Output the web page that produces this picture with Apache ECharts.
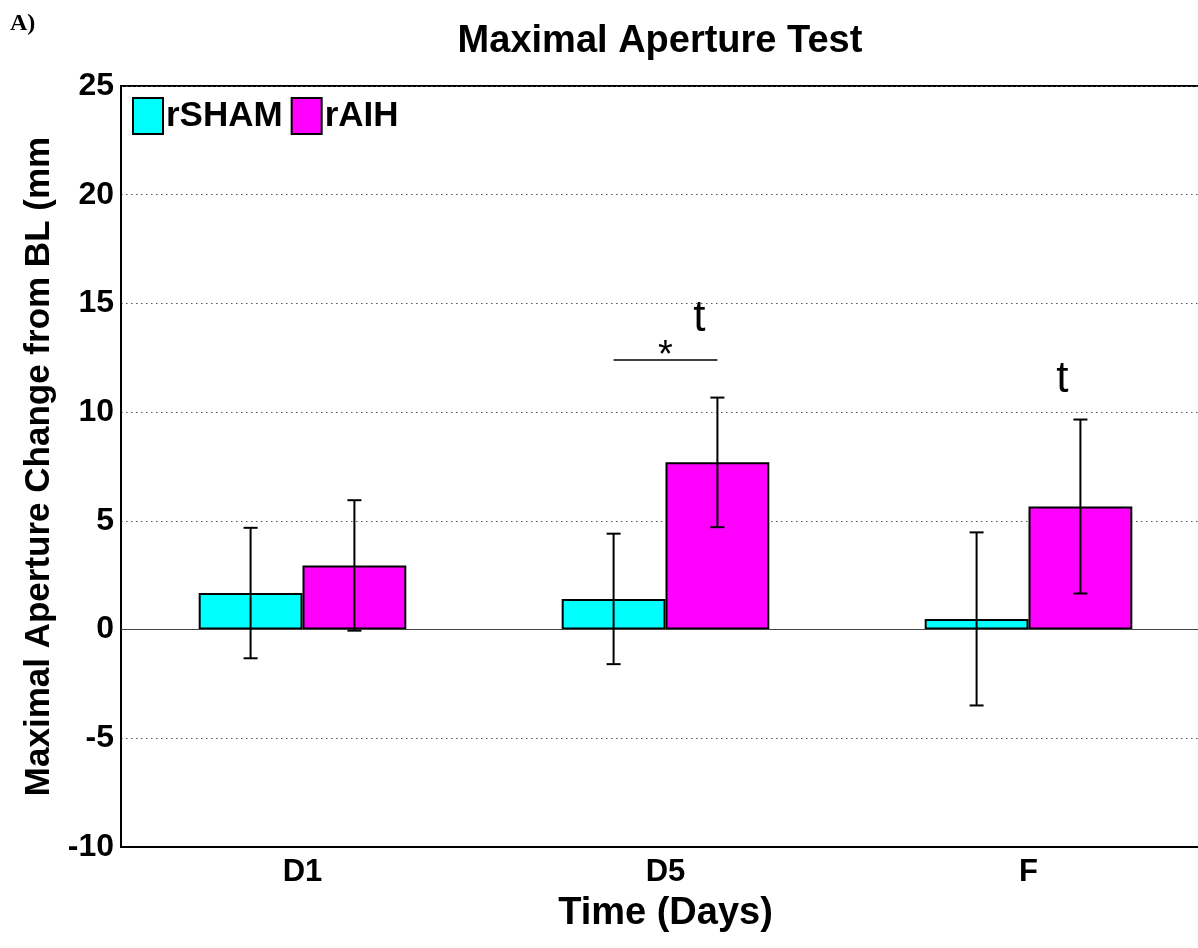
<!DOCTYPE html>
<html>
<head>
<meta charset="utf-8">
<script src="https://cdn.jsdelivr.net/npm/echarts@6/dist/echarts.min.js"></script>
<style>
html,body{margin:0;padding:0;background:#fff;overflow:hidden;width:1198px;height:948px;}
#chart{width:1212px;height:948px;}
</style>
</head>
<body>
<div id="chart"></div>
<script>
// ---- data ----
const categories = ['D1', 'D5', 'F'];
const seriesNames = ['rSHAM', 'rAIH'];
const shamMean = [1.68, 1.41, 0.49];
const shamErr  = [3.0, 3.0, 3.98];
const aihMean  = [2.95, 7.69, 5.66];
const aihErr   = [3.0, 2.98, 4.0];
const yMin = -10, yMax = 25, yStep = 5;
const titleText = 'Maximal Aperture Test';
const panelLabel = 'A)';
const xName = 'Time (Days)';
const yName = 'Maximal Aperture Change from BL (mm';
// significance bracket (category, y value, label)
const sigCats = ['D5'];
const sigY = [12.4];
const sigLabels = ['*'];
// trend marks (category, y value at glyph centre, label)
const trendCats = ['D5', 'F'];
const trendY = [14.27, 11.47];
const trendLabels = ['t', 't'];

const FONT = '"Liberation Sans", Arial, Helvetica, sans-serif';
const BAR_FRAC = 0.286; // bar width as fraction of category band

const chart = echarts.init(document.getElementById('chart'), null, {renderer: 'canvas'});

function errData(means, errs) {
  return categories.map((c, i) => [i, means[i], errs[i]]);
}
function errRender(sign) {
  return function (params, api) {
    const i = api.value(0), m = api.value(1), e = api.value(2);
    const band = api.size([1, 0])[0];
    const c = api.coord([i, m]);
    const x = c[0] + sign * band * BAR_FRAC / 2;
    const hi = api.coord([i, m + e])[1];
    const lo = api.coord([i, m - e])[1];
    const cap = 7;
    const st = {stroke: '#000', lineWidth: 2};
    return {type: 'group', children: [
      {type: 'line', shape: {x1: x, y1: hi, x2: x, y2: lo}, style: st},
      {type: 'line', shape: {x1: x - cap, y1: hi, x2: x + cap, y2: hi}, style: st},
      {type: 'line', shape: {x1: x - cap, y1: lo, x2: x + cap, y2: lo}, style: st}
    ]};
  };
}

const option = {
  backgroundColor: '#fff',
  animation: false,
  graphic: [
    {type: 'text', left: 10, top: 12, style: {text: panelLabel, font: 'bold 24px "Liberation Serif", "Times New Roman", serif', fill: '#000'}},
    {type: 'text', x: 660, y: 42, style: {text: titleText, font: 'bold 38px ' + FONT, fill: '#000', align: 'center', verticalAlign: 'middle'}}
  ],
  legend: {
    left: 132, top: 97, padding: 0,
    icon: 'rect',
    itemWidth: 30, itemHeight: 36, itemGap: 8,
    data: seriesNames,
    textStyle: {fontFamily: FONT, fontWeight: 'bold', fontSize: 35, color: '#000', padding: [0, 0, 0, -2]}
  },
  grid: {
    left: 121, top: 86, width: 1089, height: 761,
    show: true, borderColor: '#000', borderWidth: 2, backgroundColor: 'transparent',
    containLabel: false
  },
  xAxis: {
    type: 'category', data: categories,
    axisLine: {onZero: false, lineStyle: {color: '#000', width: 2}},
    axisTick: {show: false},
    axisLabel: {fontFamily: FONT, fontWeight: 'bold', fontSize: 31, color: '#000', margin: 10},
    name: xName, nameLocation: 'middle', nameGap: 48,
    nameTextStyle: {fontFamily: FONT, fontWeight: 'bold', fontSize: 38, color: '#000'},
    splitLine: {show: false}
  },
  yAxis: {
    type: 'value', min: yMin, max: yMax, interval: yStep,
    axisLine: {show: true, lineStyle: {color: '#000', width: 2}},
    axisTick: {show: false},
    axisLabel: {fontFamily: FONT, fontWeight: 'bold', fontSize: 32, color: '#000', margin: 7},
    splitLine: {show: true, lineStyle: {color: '#555', width: 1, type: [1.5, 3.5]}},
    name: yName, nameLocation: 'middle', nameGap: 59, nameRotate: 90,
    nameTextStyle: {fontFamily: FONT, fontWeight: 'bold', fontSize: 35, color: '#000'}
  },
  series: [
    {
      name: seriesNames[0], type: 'bar', data: shamMean,
      barWidth: (BAR_FRAC * 100) + '%', barGap: '0%',
      itemStyle: {color: '#00ffff', borderColor: '#000', borderWidth: 2},
      markLine: {
        silent: true, symbol: 'none', label: {show: false},
        lineStyle: {color: '#444', width: 1.2, type: 'solid'},
        data: [{yAxis: 0}]
      },
      z: 2
    },
    {
      name: seriesNames[1], type: 'bar', data: aihMean,
      barWidth: (BAR_FRAC * 100) + '%', barGap: '0%',
      itemStyle: {color: '#ff00ff', borderColor: '#000', borderWidth: 2},
      z: 2
    },
    {
      type: 'custom', name: 'errSham', data: errData(shamMean, shamErr),
      renderItem: errRender(-1), z: 5, silent: true,
      encode: {x: 0, y: [1]}
    },
    {
      type: 'custom', name: 'errAih', data: errData(aihMean, aihErr),
      renderItem: errRender(1), z: 5, silent: true,
      encode: {x: 0, y: [1]}
    },
    {
      type: 'custom', name: 'sig', silent: true, z: 6,
      data: sigCats.map((c, k) => [categories.indexOf(c), sigY[k], sigLabels[k]]),
      encode: {x: 0, y: 1},
      renderItem: function (params, api) {
        const i = api.value(0), y = api.value(1);
        const band = api.size([1, 0])[0];
        const c = api.coord([i, y]);
        const half = band * BAR_FRAC / 2;
        const lbl = sigLabels[params.dataIndex];
        return {type: 'group', children: [
          {type: 'line', shape: {x1: c[0] - half, y1: c[1], x2: c[0] + half, y2: c[1]}, style: {stroke: '#000', lineWidth: 1.5}},
          {type: 'text', x: c[0], y: c[1] - 3, style: {text: lbl, font: '38px ' + FONT, fill: '#000', align: 'center', verticalAlign: 'middle'}}
        ]};
      }
    },
    {
      type: 'custom', name: 'trend', silent: true, z: 6,
      data: trendCats.map((c, k) => [categories.indexOf(c), trendY[k]]),
      encode: {x: 0, y: 1},
      renderItem: function (params, api) {
        const i = api.value(0), y = api.value(1);
        const band = api.size([1, 0])[0];
        const c = api.coord([i, y]);
        return {type: 'text', x: c[0] + band * 0.093, y: c[1],
          style: {text: trendLabels[params.dataIndex], font: '44px ' + FONT, fill: '#000', align: 'center', verticalAlign: 'middle'}};
      }
    }
  ]
};
chart.setOption(option);
</script>
</body>
</html>
